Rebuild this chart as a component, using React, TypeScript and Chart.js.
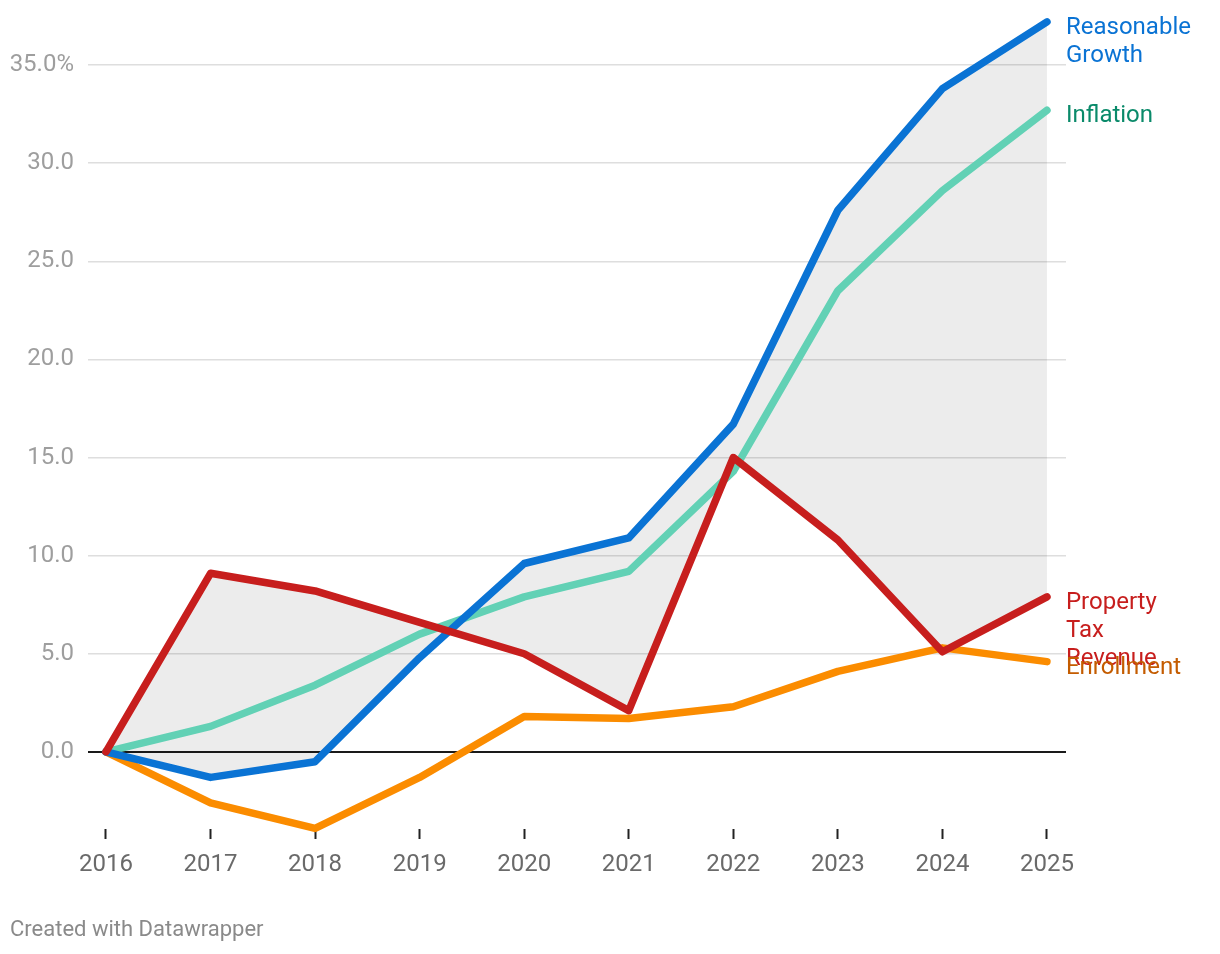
import React, { useEffect, useRef } from "react";
import { Chart, registerables } from "chart.js";

Chart.register(...registerables);

const years = [2016, 2017, 2018, 2019, 2020, 2021, 2022, 2023, 2024, 2025];
const reasonableGrowth = [0, -1.3, -0.5, 4.8, 9.6, 10.9, 16.7, 27.6, 33.8, 37.2];
const inflation = [0, 1.3, 3.4, 6.0, 7.9, 9.2, 14.3, 23.5, 28.6, 32.7];
const propertyTax = [0, 9.1, 8.2, 6.6, 5.0, 2.1, 15.0, 10.8, 5.1, 7.9];
const enrollment = [0, -2.6, -3.9, -1.3, 1.8, 1.7, 2.3, 4.1, 5.3, 4.6];
const yTicks = [0, 5, 10, 15, 20, 25, 30, 35];

const seriesLabels = [
  { lines: ["Reasonable", "Growth"], color: "#0a73d4" },
  { lines: ["Property", "Tax", "Revenue"], color: "#c71e1d" },
  { lines: ["Inflation"], color: "#0a8a6a" },
  { lines: ["Enrollment"], color: "#c45c00" },
];

const FONT = "Roboto, 'Noto Sans', sans-serif";

const toPts = (vals: number[]) => years.map((x, i) => ({ x, y: vals[i] }));

const labelPlugin = {
  id: "seriesLabels",
  afterDatasetsDraw(chart: any) {
    const ctx = chart.ctx;
    ctx.save();
    ctx.font = `24px ${FONT}`;
    ctx.textBaseline = "middle";
    ctx.textAlign = "left";
    chart.data.datasets.forEach((ds: any, i: number) => {
      const meta = chart.getDatasetMeta(i);
      const pt = meta.data[meta.data.length - 1];
      const lab = seriesLabels[i];
      ctx.fillStyle = lab.color;
      lab.lines.forEach((t, j) => {
        ctx.fillText(t, pt.x + 19, pt.y + 6 + j * 28);
      });
    });
    ctx.font = `22px ${FONT}`;
    ctx.fillStyle = "#8a8a8a";
    ctx.fillText("Created with Datawrapper", 10, 930);
    ctx.restore();
  },
};

export default function App() {
  const ref = useRef<HTMLCanvasElement>(null);
  useEffect(() => {
    if (!ref.current) return;
    const chart = new Chart(ref.current, {
      type: "line",
      data: {
        datasets: [
          {
            label: "Reasonable Growth",
            data: toPts(reasonableGrowth),
            borderColor: "#0a73d4",
            backgroundColor: "rgba(0,0,0,0.075)",
            fill: 1,
            order: 1,
          },
          {
            label: "Property Tax Revenue",
            data: toPts(propertyTax),
            borderColor: "#c71e1d",
            fill: false,
            order: 0,
          },
          {
            label: "Inflation",
            data: toPts(inflation),
            borderColor: "#62d1b5",
            fill: false,
            order: 3,
          },
          {
            label: "Enrollment",
            data: toPts(enrollment),
            borderColor: "#fb8c00",
            fill: false,
            order: 2,
          },
        ].map((d) => ({
          ...d,
          borderWidth: 7.5,
          pointRadius: 0,
          pointHoverRadius: 0,
          borderCapStyle: "round" as const,
          borderJoinStyle: "round" as const,
          tension: 0,
          clip: false as any,
        })),
      },
      options: {
        responsive: false,
        animation: false,
        devicePixelRatio: 1,
        layout: { padding: { top: 15, right: 154, left: 0, bottom: 0 } },
        plugins: {
          legend: { display: false },
          tooltip: { enabled: false },
          filler: { drawTime: "beforeDatasetsDraw" },
        },
        scales: {
          x: {
            type: "linear",
            min: 2015.828,
            max: 2025.182,
            afterBuildTicks: (s: any) => {
              s.ticks = years.map((v) => ({ value: v }));
            },
            afterFit: (s: any) => {
              s.height = 125;
              s.paddingLeft = 0;
              s.paddingRight = 0;
            },
            border: { display: false },
            grid: {
              drawOnChartArea: false,
              drawTicks: true,
              tickLength: 10,
              tickColor: "#222",
              tickWidth: 2,
            },
            ticks: {
              autoSkip: false,
              maxRotation: 0,
              padding: 12,
              color: "#6a6a6a",
              font: { family: FONT, size: 24 },
              callback: (v: any) => String(v),
            },
          },
          y: {
            type: "linear",
            min: -3.93,
            max: 37.55,
            afterBuildTicks: (s: any) => {
              s.ticks = yTicks.map((v) => ({ value: v }));
            },
            afterFit: (s: any) => {
              s.width = 88;
              s.paddingTop = 0;
              s.paddingBottom = 0;
            },
            border: { display: false },
            grid: {
              drawTicks: false,
              color: (c: any) => (c.tick && c.tick.value === 0 ? "#1a1a1a" : "#dedede"),
              lineWidth: (c: any) => (c.tick && c.tick.value === 0 ? 2 : 1.5),
            },
            ticks: {
              padding: 14,
              color: "#9e9e9e",
              font: { family: FONT, size: 24 },
              callback: (v: any) => (v === 35 ? "35.0%" : Number(v).toFixed(1)),
            },
          },
        },
      },
      plugins: [labelPlugin],
    });
    return () => chart.destroy();
  }, []);
  return (
    <div style={{ position: "absolute", left: 0, top: 0, width: 1220, height: 954, background: "#fff" }}>
      <canvas ref={ref} width={1220} height={954} style={{ display: "block" }} />
    </div>
  );
}
